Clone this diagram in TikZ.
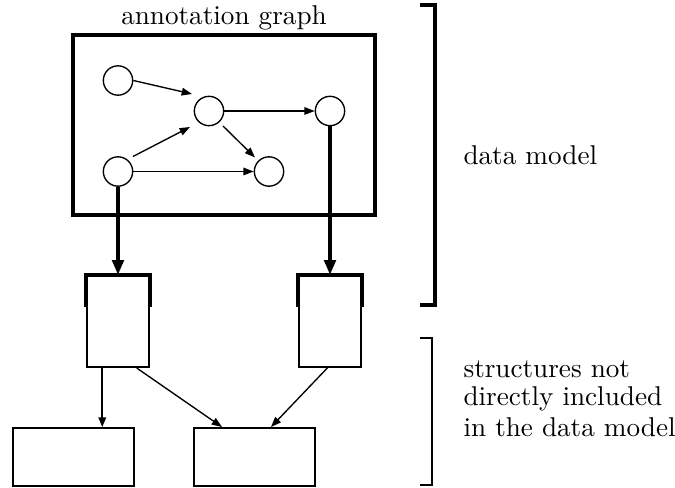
\documentclass[tikz,border=0pt]{standalone}
\usetikzlibrary{arrows.meta,calc}
\begin{document}
\begin{tikzpicture}[x=0.368pt,y=-0.368pt,
  circ/.style={circle,draw,line width=0.5pt,minimum size=10.8pt,inner sep=0pt},
  thinarr/.style={-{Triangle[length=3.8pt,width=2.8pt]},line width=0.5pt},
  midarr/.style={-{Triangle[length=3.6pt,width=2.8pt]},line width=0.6pt},
  thickarr/.style={-{Triangle[length=5.5pt,width=4.2pt]},line width=1.6pt},
  bigbox/.style={rectangle,draw,line width=1.6pt,minimum width=111pt,minimum height=66.2pt,inner sep=0pt},
  midbox/.style={rectangle,draw,line width=0.75pt,minimum width=22.6pt,minimum height=33.5pt,inner sep=0pt},
  lowbox/.style={rectangle,draw,line width=0.75pt,minimum width=44.5pt,minimum height=21.3pt,inner sep=0pt},
  lbl/.style={inner sep=0pt}
]
\useasboundingbox (0,0) rectangle (675,488);

% annotation graph box
\node[bigbox] (G) at (224,125) {};
\node[lbl,anchor=base] (Gl) at (224,25) {annotation graph};

% circles
\node[circ] (c1) at (118,80.5) {};
\node[circ] (c2) at (209,111) {};
\node[circ] (c3) at (330,111) {};
\node[circ] (c4) at (118,171.5) {};
\node[circ] (c5) at (269,171.5) {};

% graph edges
\draw[thinarr] (c1.east) -- ($(c2)+(-17,-17)$);
\draw[thinarr] (c2.east) -- (c3.west);
\draw[thinarr] ($(c2)+(14,15)$) -- ($(c5)+(-14,-14)$);
\draw[thinarr] ($(c4)+(15,-15)$) -- ($(c2)+(-19,16)$);
\draw[thinarr] (c4.east) -- (c5.west);

% middle boxes
\node[midbox] (m1) at (118,321.5) {};
\node[midbox] (m2) at (330,321.5) {};
\draw[line width=1.6pt] ($(m1.north west)+(0,32)$) -- (m1.north west) -- (m1.north east) -- ($(m1.north east)+(0,32)$);
\draw[line width=1.6pt] ($(m2.north west)+(0,32)$) -- (m2.north west) -- (m2.north east) -- ($(m2.north east)+(0,32)$);

% thick arrows
\draw[thickarr] (c4.south) -- (m1.north);
\draw[thickarr] (c3.south) -- (m2.north);

% lower boxes
\node[lowbox] (b1) at (73.5,457) {};
\node[lowbox] (b2) at (254.5,457) {};

% lower arrows
\coordinate (s1) at ($(m1.south west)+(16,0)$);
\draw[midarr] (s1) -- (s1 |- b1.north);
\draw[thinarr] ($(m1.south east)+(-13,0)$) -- ($(b2.north west)+(29,0)$);
\draw[thinarr] ($(m2.south west)+(29,0)$) -- ($(b2.north east)+(-45,0)$);

% brackets
\draw[line width=1.6pt] (420,5) -- (435,5) -- (435,305) -- (420,305);
\draw[line width=0.75pt] (420,338) -- (432,338) -- (432,485) -- (420,485);

% labels
\node[lbl,anchor=base west] (dm) at (463,165) {data model};
\node[lbl,anchor=base west] (t1) at (463,377) {structures not};
\node[lbl,anchor=base west] (t2) at (463,405) {directly included};
\node[lbl,anchor=base west] (t3) at (463,436) {in the data model};
\end{tikzpicture}
\end{document}
